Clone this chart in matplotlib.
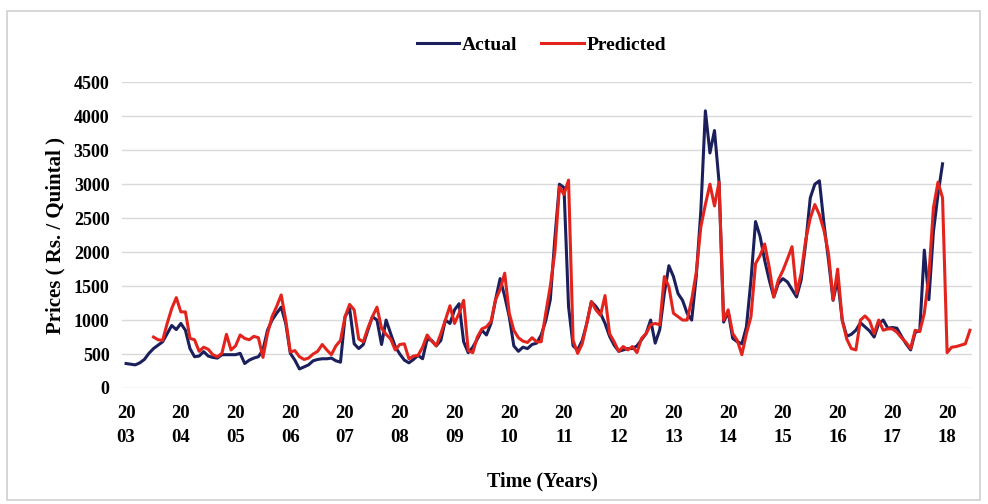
import numpy as np
import matplotlib
matplotlib.use("Agg")
from matplotlib import pyplot as plt
from matplotlib.patches import Rectangle

# monthly prices, Jan 2003 onwards
actual = [360, 350, 340, 370, 420, 510, 580, 630, 680, 800, 920, 860,
          950, 850, 580, 460, 470, 535, 470, 450, 440, 490, 490, 490,
          490, 510, 360, 410, 440, 460, 560, 850, 1000, 1100, 1190, 950,
          510, 410, 280, 310, 340, 400, 420, 430, 430, 440, 400, 380,
          1050, 1170, 650, 580, 640, 850, 1050, 1000, 640, 1000, 800, 610,
          500, 410, 370, 420, 480, 430, 720, 700, 620, 700, 1000, 950,
          1150, 1240, 680, 520, 600, 720, 850, 780, 950, 1300, 1610, 1350,
          1050, 620, 540, 600, 580, 640, 660, 780, 990, 1300, 2200, 3000,
          2950, 1200, 620, 560, 700, 950, 1270, 1200, 1100, 950, 760, 630,
          540, 560, 580, 580, 620, 710, 800, 1000, 660, 860, 1390, 1800,
          1640, 1390, 1290, 1100, 1000, 1640, 2600, 4080, 3460, 3790, 3030, 970,
          1120, 730, 680, 650, 900, 1590, 2450, 2230, 1880, 1590, 1340, 1540,
          1610, 1560, 1450, 1340, 1590, 2130, 2800, 3000, 3050, 2420, 1880, 1290,
          1600, 1000, 760, 790, 850, 960, 900, 840, 750, 950, 1000, 880,
          890, 880, 760, 650, 560, 820, 840, 2030, 1300, 2300, 2850, 3300]

pred_start = 6
predicted = [750, 710, 700, 950, 1170, 1330,
             1120, 1120, 730, 710, 540, 600, 570, 490, 460, 510, 790, 560,
             620, 780, 730, 710, 760, 740, 450, 800, 1050, 1200, 1370, 1000,
             530, 550, 460, 420, 440, 500, 540, 640, 560, 490, 620, 700,
             1050, 1230, 1150, 720, 680, 880, 1050, 1190, 880, 790, 720, 560,
             640, 650, 430, 470, 480, 600, 780, 690, 620, 800, 1000, 1210,
             950, 1100, 1290, 550, 520, 750, 870, 900, 980, 1300, 1450, 1690,
             1100, 850, 740, 690, 670, 740, 680, 680, 1100, 1500, 2000, 2960,
             2850, 3060, 700, 510, 650, 950, 1270, 1150, 1070, 1360, 800, 680,
             540, 610, 560, 610, 520, 730, 800, 930, 950, 930, 1640, 1490,
             1100, 1050, 1000, 1000, 1300, 1700, 2370, 2700, 3000, 2680, 3030, 1000,
             1150, 800, 700, 490, 800, 1050, 1830, 1950, 2120, 1780, 1340, 1590,
             1730, 1900, 2080, 1390, 1690, 2180, 2500, 2700, 2550, 2320, 1980, 1300,
             1750, 1000, 720, 580, 560, 1000, 1060, 990, 800, 1000, 850, 870,
             870, 820, 740, 670, 580, 850, 830, 1100, 1650, 2650, 3030, 2800,
             520, 600, 610, 630, 650, 850]

years = ["03", "04", "05", "06", "07", "08", "09", "10",
         "11", "12", "13", "14", "15", "16", "17", "18"]
yticks = [0, 500, 1000, 1500, 2000, 2500, 3000, 3500, 4000, 4500]

plt.rcParams['font.family'] = ['Liberation Serif', 'DejaVu Serif']
plt.rcParams['font.weight'] = 'bold'

fig = plt.figure(figsize=(9.88, 5.04), dpi=100)
fig.patches.append(Rectangle((0.007, 0.008), 0.985, 0.97, transform=fig.transFigure,
                             fill=False, edgecolor='#cfcfcf', linewidth=1.2))
ax = fig.add_axes([0.1235, 0.2302, 0.8605, 0.6065])

x_act = np.arange(len(actual))
x_pred = np.arange(pred_start, pred_start + len(predicted))
ax.plot(x_act, actual, color='#1b1f5c', lw=2.2, label='Actual')
ax.plot(x_pred, predicted, color='#e3241c', lw=2.2, label='Predicted')

ax.set_xlim(-0.9, 185.5)
ax.set_ylim(0, 4500)
ax.set_yticks(yticks)
ax.set_yticklabels([str(v) for v in yticks], fontsize=13, fontweight='bold')
ax.set_xticks(np.arange(0, 12 * len(years), 12))
ax.set_xticklabels(["20\n" + y for y in years], fontsize=13.5, fontweight='bold',
                   linespacing=1.6)
ax.tick_params(axis='both', length=0)
ax.tick_params(axis='y', pad=9)
ax.tick_params(axis='x', pad=12)
ax.grid(axis='y', color='#d9d9d9', lw=1.0)
ax.set_axisbelow(True)
for s in ax.spines.values():
    s.set_visible(False)

ax.set_ylabel('Prices ( Rs. / Quintal )', fontsize=15, fontweight='bold', labelpad=6)
fig.text(0.549, 0.035, 'Time (Years)', ha='center', fontsize=14.5, fontweight='bold')

fig.legend(loc='center', bbox_to_anchor=(0.548, 0.91), ncol=2, frameon=False,
           fontsize=14, handlelength=2.2, handletextpad=0.15, columnspacing=1.2)

fig.savefig('out.png', dpi=100, facecolor='white')
